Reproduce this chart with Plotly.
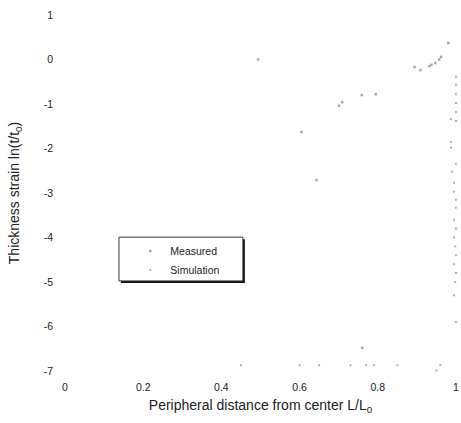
import plotly.graph_objects as go

# Measured points (faded scan, estimated)
meas_x = [0.494, 0.605, 0.643, 0.701, 0.709, 0.759, 0.795, 0.894, 0.909, 0.932, 0.937, 0.947, 0.957, 0.962, 0.98, 0.76]
meas_y = [0.0, -1.63, -2.71, -1.04, -0.96, -0.80, -0.78, -0.17, -0.24, -0.15, -0.12, -0.08, 0.0, 0.06, 0.37, -6.48]

# Simulation points (faint column near the edge and along the bottom)
sim_x = [1.0, 1.0, 1.0, 1.0, 1.0, 0.987, 1.0, 0.987, 0.987, 1.0, 0.99, 0.995, 0.995, 1.0, 1.0,
         0.995, 1.0, 0.995, 0.998, 1.0, 0.995, 1.0, 0.998, 0.995, 1.0,
         0.45, 0.60, 0.65, 0.73, 0.77, 0.79, 0.85, 0.96, 0.95]
sim_y = [-0.39, -0.57, -0.78, -0.98, -1.18, -1.34, -1.38, -1.85, -1.98, -2.34, -2.52, -2.77, -2.97, -3.15, -3.33,
         -3.6, -3.8, -4.0, -4.2, -4.4, -4.6, -4.8, -5.0, -5.3, -5.9,
         -6.87, -6.87, -6.87, -6.87, -6.87, -6.87, -6.87, -6.87, -6.99]

x_ticks = [0, 0.2, 0.4, 0.6, 0.8, 1]
x_labels = ["0", "0.2", "0.4", "0.6", "0.8", "1"]
y_ticks = [1, 0, -1, -2, -3, -4, -5, -6, -7]
y_labels = ["1", "0", "-1", "-2", "-3", "-4", "-5", "-6", "-7"]

fig = go.Figure()
fig.add_trace(go.Scatter(x=meas_x, y=meas_y, mode="markers", name="Measured", cliponaxis=False,
                         marker=dict(symbol="square", size=2.5, color="#a8a8a8", line=dict(width=0))))
fig.add_trace(go.Scatter(x=sim_x, y=sim_y, mode="markers", name="Simulation", cliponaxis=False,
                         marker=dict(symbol="square", size=2, color="#b0b0b0", line=dict(width=0))))

font = "Liberation Sans, Arial, sans-serif"

fig.update_layout(
    width=461, height=423,
    margin=dict(l=65, r=2, t=15, b=52),
    plot_bgcolor="white", paper_bgcolor="white",
    font=dict(family=font, size=10, color="#222"),
    showlegend=True,
    legend=dict(x=0.167, y=0.378, xanchor="left", yanchor="top",
                bgcolor="rgba(0,0,0,0)", borderwidth=0,
                font=dict(family=font, size=10.5, color="#222"),
                itemwidth=30, tracegroupgap=0),
    xaxis=dict(range=[0, 1], tickvals=x_ticks, ticktext=x_labels, showgrid=False,
               zeroline=False, showline=False, ticks="", ticklabelstandoff=8,
               ticklabeloverflow="allow",
               tickfont=dict(size=10.5),
               title=dict(text="Peripheral distance from center L/L<sub>0</sub>",
                          font=dict(size=14, family=font, color="#222"), standoff=8)),
    yaxis=dict(range=[-7, 1], tickvals=y_ticks, ticktext=y_labels, showgrid=False,
               zeroline=False, showline=False, ticks="", ticklabelstandoff=11,
               tickfont=dict(size=10.5),
               title=dict(text="Thickness strain ln(t/t<sub>0</sub>)",
                          font=dict(size=14, family=font, color="#222"), standoff=20)),
    shapes=[
        dict(type="rect", xref="paper", yref="paper", x0=0.143, x1=0.460, y0=0.247, y1=0.370,
             line=dict(color="#111", width=0), fillcolor="#111", layer="below"),
        dict(type="rect", xref="paper", yref="paper", x0=0.138, x1=0.455, y0=0.253, y1=0.376,
             line=dict(color="#333", width=1), fillcolor="white", layer="below"),
    ],
)

fig.write_html("out.html", config={"displayModeBar": False},
               post_script="document.body.style.margin='0';document.body.style.overflow='hidden';")
